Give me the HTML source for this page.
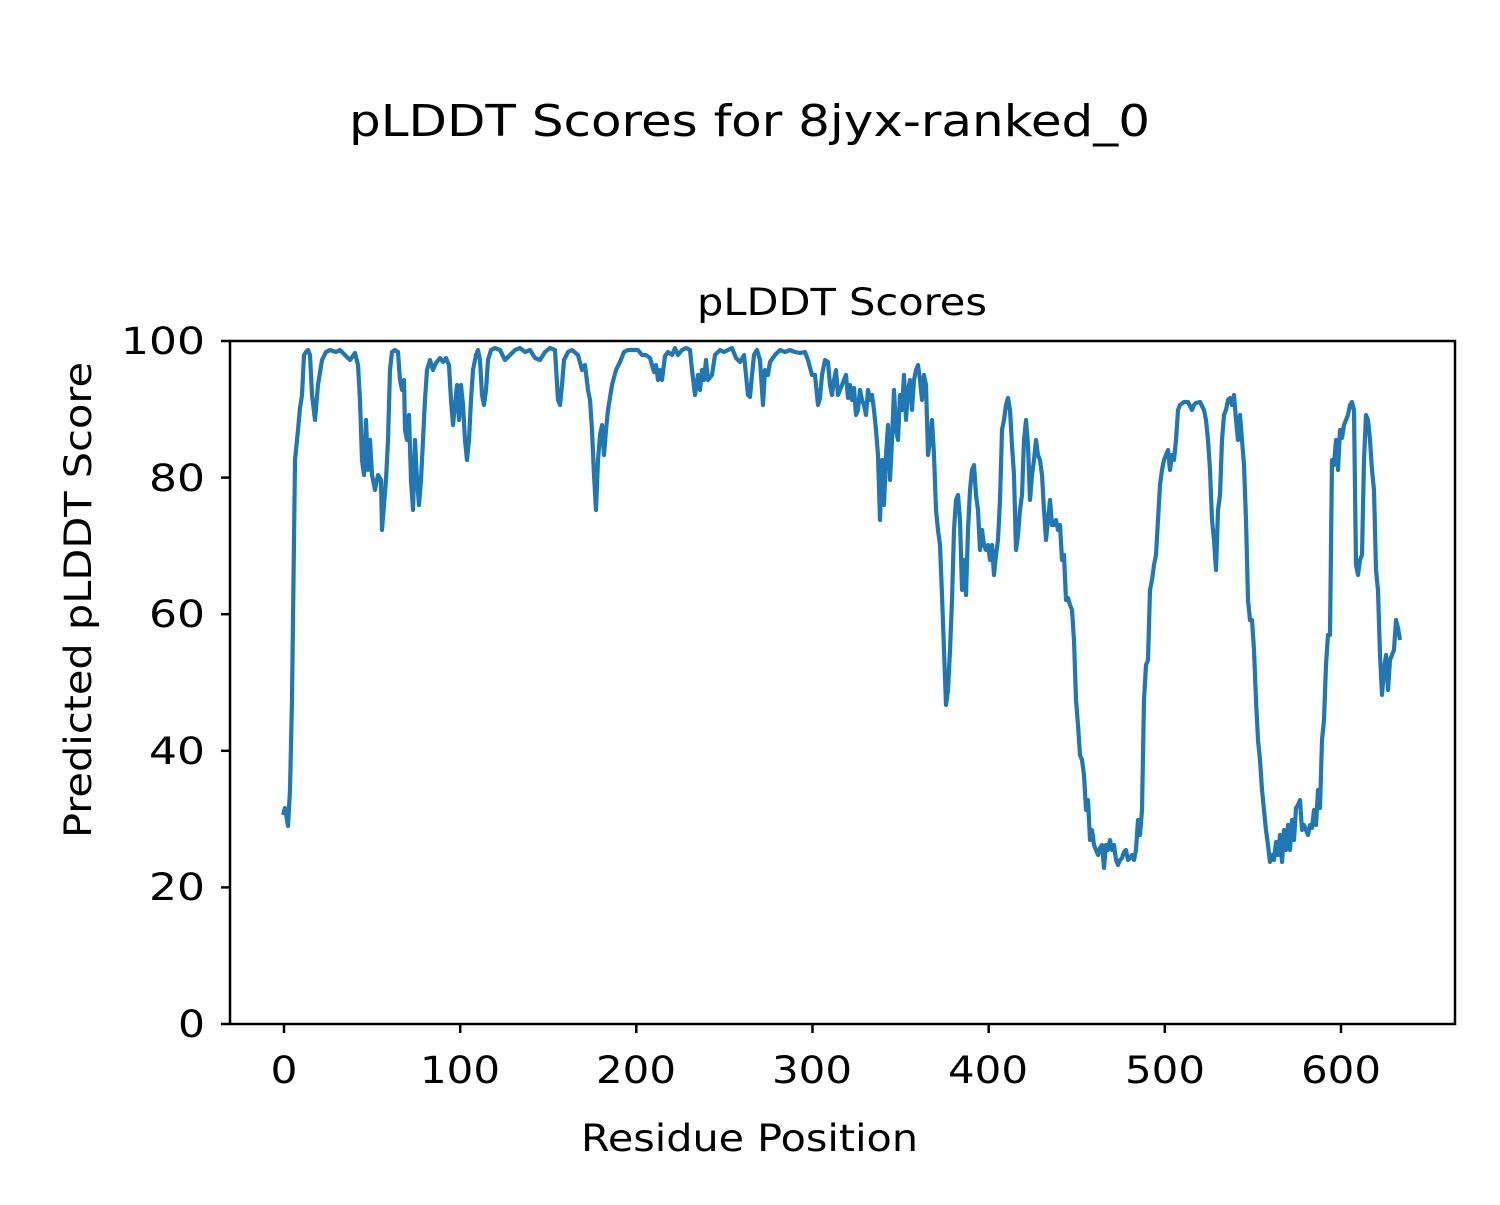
<!DOCTYPE html>
<html><head><meta charset="utf-8"><style>
html,body{margin:0;padding:0;background:#fff;}
svg text{font-family:"DejaVu Sans","Liberation Sans",sans-serif;fill:#000;}
</style></head><body>
<svg width="1500" height="1200" viewBox="0 0 1500 1200" xmlns="http://www.w3.org/2000/svg">
<rect width="1500" height="1200" fill="#fff"/>
<text x="349" y="136" font-size="44" textLength="801" lengthAdjust="spacingAndGlyphs">pLDDT Scores for 8jyx-ranked_0</text>
<text x="697" y="315" font-size="37" textLength="290" lengthAdjust="spacingAndGlyphs">pLDDT Scores</text>
<polyline fill="none" stroke="#1f77b4" stroke-width="4.2" stroke-linejoin="round" points="283,815 285,808 288,826 290,790 292,700 295,460 298,430 300,408 302,395 304,355 306,352 308,350 310,355 312,395 315,420 318,385 322,360 326,352 330,350 336,352 340,350 345,355 350,360 355,353 358,365 360,400 362,460 364,475 366,420 368,470 370,440 372,475 375,490 378,475 381,480 382,530 384,505 386,480 388,440 390,370 392,352 395,350 398,352 400,380 402,390 404,380 405,430 407,440 409,415 411,480 413,510 415,440 417,480 419,505 421,480 423,440 425,400 427,370 430,360 433,370 436,363 440,358 443,362 446,358 449,365 451,400 453,425 455,405 457,385 459,420 461,385 463,405 465,440 467,460 469,440 471,400 473,370 476,355 478,350 480,360 482,395 484,405 486,390 488,360 491,350 495,348 500,350 505,360 510,355 515,350 520,348 525,352 530,350 535,358 540,360 545,352 550,348 555,350 558,400 560,405 562,385 564,360 568,352 572,350 578,355 582,370 585,365 588,390 590,400 592,430 594,475 596,510 598,460 600,435 602,425 604,455 606,430 608,410 612,385 616,370 620,362 624,352 628,350 634,350 638,350 642,355 646,355 650,358 654,372 656,365 658,380 660,370 662,380 665,356 668,352 672,355 675,348 678,355 682,350 686,348 690,350 692,370 695,395 698,375 700,390 702,370 704,380 706,360 708,380 712,375 715,355 720,350 724,352 728,350 732,348 736,358 740,362 744,355 748,395 750,397 752,375 754,355 757,350 760,360 763,405 765,370 768,375 770,362 775,355 780,350 785,352 790,350 795,352 800,353 805,352 808,360 812,375 815,375 818,405 820,398 822,375 825,360 828,362 830,385 832,395 834,380 836,370 838,395 840,390 842,385 844,380 846,375 848,398 850,385 852,400 854,388 856,415 858,410 860,390 862,400 864,405 866,415 868,390 870,400 872,395 874,410 876,430 878,455 880,520 882,460 884,505 886,455 888,425 890,480 892,440 894,390 896,430 898,440 900,395 902,410 904,375 906,420 908,390 910,380 912,410 914,380 916,370 918,365 920,380 922,400 924,375 926,385 928,455 930,440 932,420 934,455 936,510 938,530 940,545 942,595 944,650 946,705 948,690 950,650 952,600 954,530 956,500 958,495 960,520 962,590 964,560 966,595 968,530 970,490 972,470 974,465 976,495 978,510 980,550 982,530 984,545 986,550 988,545 990,560 992,545 994,575 996,555 998,540 1000,500 1002,430 1004,420 1006,405 1008,398 1010,410 1012,445 1014,475 1016,550 1018,535 1020,510 1022,495 1024,440 1026,420 1028,445 1030,500 1032,475 1034,460 1036,440 1038,455 1040,460 1042,475 1044,510 1046,540 1048,520 1050,500 1052,525 1054,525 1056,520 1058,530 1060,525 1062,560 1064,555 1066,600 1068,598 1070,605 1072,610 1074,640 1076,700 1078,725 1080,755 1082,760 1084,775 1086,810 1088,800 1090,840 1092,830 1094,845 1096,850 1098,855 1100,848 1102,845 1104,868 1106,845 1108,850 1110,840 1112,850 1114,845 1116,860 1118,865 1120,860 1122,858 1124,852 1126,850 1128,860 1130,858 1132,855 1134,860 1136,850 1138,820 1140,835 1142,810 1144,700 1146,665 1148,660 1150,590 1152,580 1154,565 1156,555 1158,520 1160,485 1162,470 1164,460 1166,455 1168,450 1170,470 1172,455 1174,460 1176,440 1178,410 1180,405 1184,402 1188,402 1192,410 1194,405 1196,403 1200,402 1204,410 1206,420 1208,440 1210,470 1212,520 1214,540 1216,570 1218,510 1220,495 1222,440 1224,415 1226,410 1228,400 1230,398 1232,405 1234,395 1236,420 1238,440 1240,415 1242,440 1244,465 1246,520 1248,600 1250,620 1252,620 1254,650 1256,700 1258,740 1260,760 1262,790 1264,810 1266,830 1268,845 1270,862 1272,855 1274,860 1276,842 1278,855 1280,835 1282,862 1284,830 1286,850 1288,825 1290,850 1292,820 1294,840 1296,808 1298,805 1300,800 1302,830 1304,825 1306,830 1308,835 1310,825 1312,828 1314,810 1316,825 1318,790 1320,808 1322,740 1324,720 1326,665 1328,635 1330,635 1332,460 1334,465 1336,440 1338,470 1340,430 1342,438 1344,425 1346,420 1348,415 1350,405 1352,402 1354,410 1356,565 1358,575 1360,560 1362,555 1364,460 1366,415 1368,420 1370,440 1372,470 1374,490 1376,570 1378,590 1380,655 1382,695 1384,670 1386,655 1388,690 1390,660 1392,655 1394,650 1396,620 1398,628 1400,640"/>
<rect x="230" y="341" width="1225" height="683" fill="none" stroke="#000" stroke-width="2.5"/>
<g stroke="#000" stroke-width="2.5">
<line x1="230" y1="1024" x2="221" y2="1024"/><line x1="230" y1="887.4" x2="221" y2="887.4"/><line x1="230" y1="750.8" x2="221" y2="750.8"/><line x1="230" y1="614.2" x2="221" y2="614.2"/><line x1="230" y1="477.6" x2="221" y2="477.6"/><line x1="230" y1="341" x2="221" y2="341"/>
<line x1="284" y1="1024" x2="284" y2="1033"/><line x1="460.2" y1="1024" x2="460.2" y2="1033"/><line x1="636.3" y1="1024" x2="636.3" y2="1033"/><line x1="812.5" y1="1024" x2="812.5" y2="1033"/><line x1="988.7" y1="1024" x2="988.7" y2="1033"/><line x1="1164.8" y1="1024" x2="1164.8" y2="1033"/><line x1="1341" y1="1024" x2="1341" y2="1033"/>
</g>
<g font-size="37" text-anchor="end">
<text x="205" y="1037" textLength="27" lengthAdjust="spacingAndGlyphs">0</text>
<text x="205" y="900" textLength="56" lengthAdjust="spacingAndGlyphs">20</text>
<text x="205" y="764" textLength="56" lengthAdjust="spacingAndGlyphs">40</text>
<text x="205" y="627" textLength="56" lengthAdjust="spacingAndGlyphs">60</text>
<text x="205" y="491" textLength="56" lengthAdjust="spacingAndGlyphs">80</text>
<text x="205" y="354" textLength="84" lengthAdjust="spacingAndGlyphs">100</text>
</g>
<g font-size="37" text-anchor="middle">
<text x="284" y="1083" textLength="27" lengthAdjust="spacingAndGlyphs">0</text>
<text x="460" y="1083" textLength="80" lengthAdjust="spacingAndGlyphs">100</text>
<text x="636" y="1083" textLength="80" lengthAdjust="spacingAndGlyphs">200</text>
<text x="812" y="1083" textLength="80" lengthAdjust="spacingAndGlyphs">300</text>
<text x="988" y="1083" textLength="80" lengthAdjust="spacingAndGlyphs">400</text>
<text x="1165" y="1083" textLength="80" lengthAdjust="spacingAndGlyphs">500</text>
<text x="1341" y="1083" textLength="80" lengthAdjust="spacingAndGlyphs">600</text>
</g>
<text x="581" y="1151" font-size="37" textLength="337" lengthAdjust="spacingAndGlyphs">Residue Position</text>
<text transform="translate(91,838) rotate(-90)" font-size="37" textLength="476" lengthAdjust="spacingAndGlyphs">Predicted pLDDT Score</text>
</svg>
</body></html>
